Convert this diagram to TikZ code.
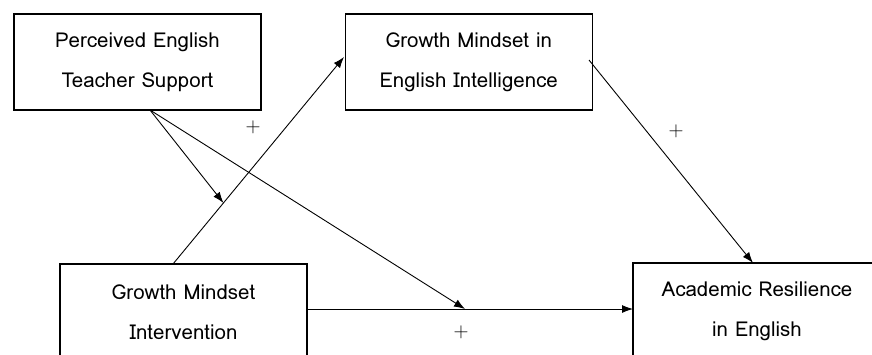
\documentclass[tikz,border=0pt]{standalone}
\usepackage{fontspec}
\setmainfont{Loma}
\usetikzlibrary{positioning,calc,arrows.meta}
\tikzset{block/.style={draw,line width=1.3pt,minimum width=247pt,minimum height=96pt,align=center,font=\fontsize{20.5}{40}\selectfont},
         line/.style={line width=0.9pt,-{Latex[length=11pt,width=8pt]}}
}
\tikzstyle{sign} = [font=\fontsize{20}{20}\selectfont]

\begin{document}
\begin{tikzpicture}[x=1pt,y=-1pt]
\useasboundingbox (0,0) rectangle (872,354);

\node[block] (support) at (137.5,62) {Perceived English\\Teacher Support};
\node[block,right=83pt of support] (mindset) {Growth Mindset in\\English Intelligence};
\node[block] (intervention) at (183.5,312) {Growth Mindset\\Intervention};
\node[block,minimum width=248pt] (resilience) at (757,311) {Academic Resilience\\in English};
\coordinate (supportout) at (150,110);
\coordinate (interventionout) at (173,264);
\coordinate (mindsetin) at (344,57);
\coordinate (interventionright) at (307,309);
\coordinate (resilienceleft) at (633,309);
\coordinate (mindsetout) at (589,60);
\coordinate (resiliencetop) at (753,263);
\coordinate (modone) at ($(interventionout)!0.295!(mindsetin)$);
\coordinate (modtwo) at (465,309);
\node[sign] (plusone) at (253,127) {$+$};
\node[sign] (plustwo) at (676,131) {$+$};
\node[sign] (plusthree) at (461,332) {$+$};
\draw[line] (interventionout)--(mindsetin);
\draw[line] (interventionright)--(resilienceleft);
\draw[line] (mindsetout)--(resiliencetop);
\draw[line] (supportout)--(modone);
\draw[line] (supportout)--(modtwo);

\end{tikzpicture}
\end{document}
